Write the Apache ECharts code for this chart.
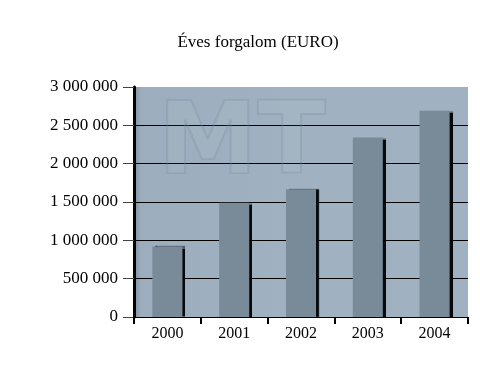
<!DOCTYPE html>
<html><head><meta charset="utf-8">
<script src="https://cdn.jsdelivr.net/npm/echarts@6/dist/echarts.min.js"></script>
<style>html,body{margin:0;padding:0;background:#fff}#c{width:480px;height:384px}</style>
</head><body><div id="c"></div>
<script>
const titleText = 'Éves forgalom (EURO)';
const years = ['2000', '2001', '2002', '2003', '2004'];
const revenue = [920000, 1490000, 1665000, 2340000, 2690000];
const yTicks = [0, 500000, 1000000, 1500000, 2000000, 2500000, 3000000];

const fmt = v => String(v).replace(/\B(?=(\d{3})+(?!\d))/g, ' ');
const chart = echarts.init(document.getElementById('c'));
chart.setOption({
  animation: false,
  backgroundColor: '#ffffff',
  title: {
    text: titleText, left: 253, top: 29, textAlign: 'center',
    textStyle: { fontFamily: 'Liberation Serif', fontSize: 17, fontWeight: 'normal', color: '#000' }
  },
  grid: {
    left: 134, right: 12, top: 87, bottom: 67, show: true, borderWidth: 0,
    backgroundColor: { type: 'linear', x: 0, y: 0, x2: 1, y2: 0, colorStops: [
      { offset: 0, color: '#7e8e9c' }, { offset: 0.02, color: '#9cadbd' }, { offset: 0.5, color: '#a0b1c1' }, { offset: 1, color: '#a0b1c1' }] }
  },
  graphic: [{
    type: 'text', left: 157, top: 96, z: 1, silent: true,
    style: { text: 'MT', font: 'bold 100px "DejaVu Sans"', fill: 'rgba(255,255,255,0.04)', stroke: 'rgba(125,140,155,0.3)', lineWidth: 2 }
  }],
  xAxis: {
    type: 'category', data: years,
    axisLine: { lineStyle: { color: '#000', width: 1 } },
    axisTick: { show: true, length: 7, lineStyle: { color: '#000', width: 2 } },
    axisLabel: { color: '#000', fontFamily: 'Liberation Serif', fontSize: 16, margin: 9 }
  },
  yAxis: {
    type: 'value', min: yTicks[0], max: yTicks[yTicks.length - 1], interval: yTicks[1] - yTicks[0],
    axisLine: { show: true, lineStyle: { color: '#000', width: 3 } },
    axisTick: { show: true, length: 11, lineStyle: { color: '#444', width: 1 } },
    splitLine: { show: true, showMaxLine: false, lineStyle: { color: '#000', width: 1 } },
    axisLabel: { color: '#000', fontFamily: 'Liberation Serif', fontSize: 17, margin: 16, formatter: fmt }
  },
  series: [{
    type: 'bar', data: revenue, barWidth: '45%', z: 3,
    itemStyle: { color: '#798a99', shadowColor: 'rgba(0,0,0,0.95)', shadowOffsetX: 3, shadowOffsetY: 0, shadowBlur: 1 }
  }]
});
</script></body></html>
